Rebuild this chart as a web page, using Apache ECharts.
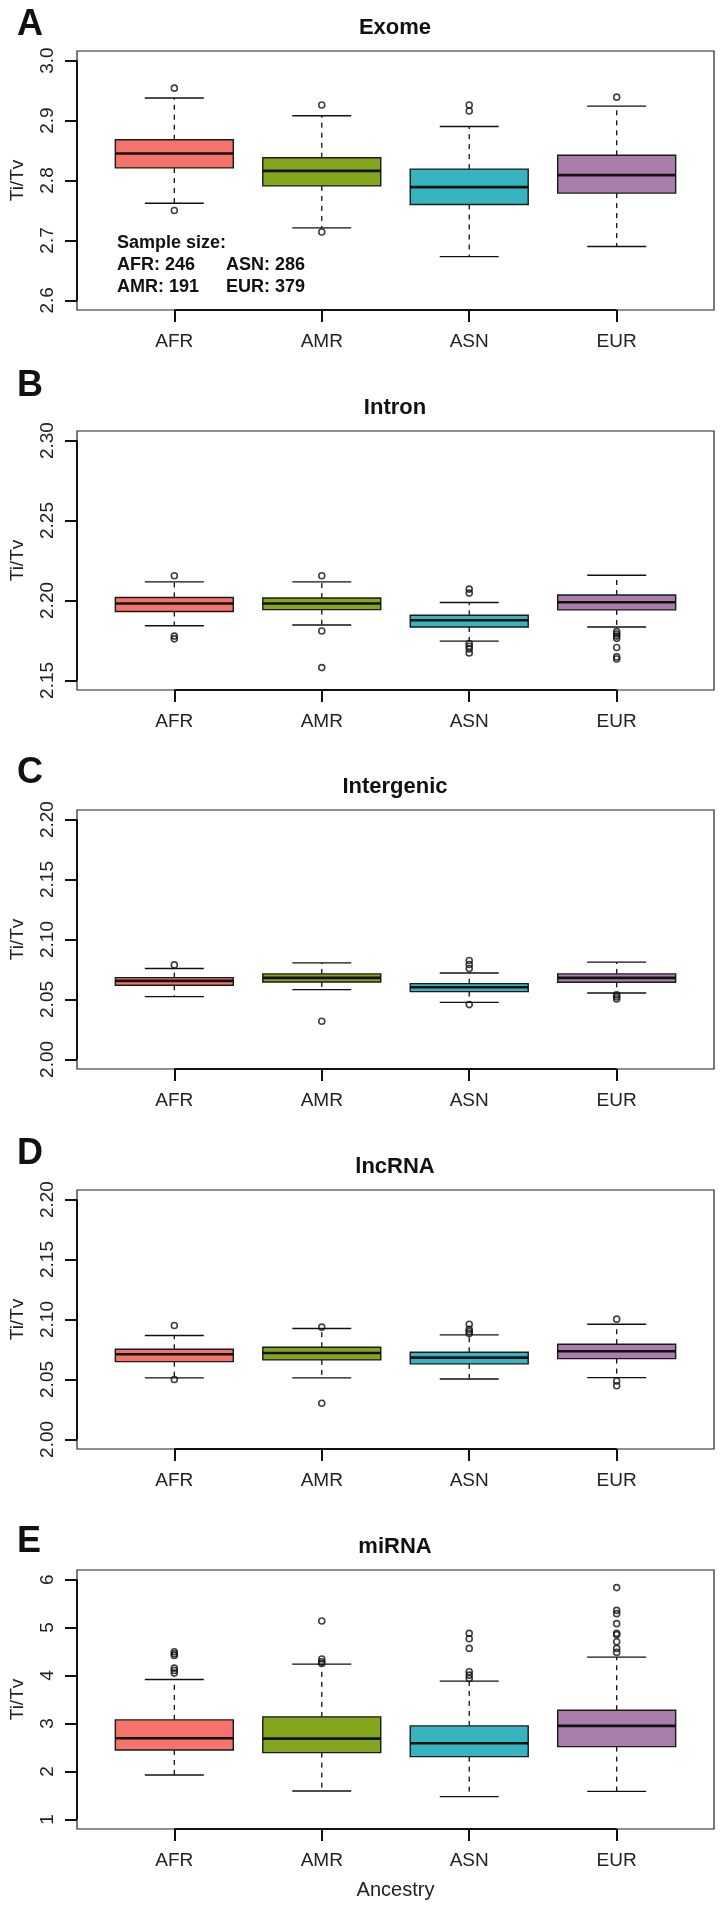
<!DOCTYPE html>
<html>
<head>
<meta charset="utf-8">
<script src="https://cdn.jsdelivr.net/npm/echarts@6/dist/echarts.min.js"></script>
<style>
html,body{margin:0;padding:0;background:#fff;}
#chart{width:720px;height:1909px;}
</style>
</head>
<body>
<div id="chart"></div>
<script>
// ---------- data ----------
const categories = ['AFR', 'AMR', 'ASN', 'EUR'];
const boxColors = ['#F4736A', '#84A61E', '#37B4BF', '#A97EAB'];
const panelLetters = ['A', 'B', 'C', 'D', 'E'];
const panelTitles = ['Exome', 'Intron', 'Intergenic', 'lncRNA', 'miRNA'];

// [lower whisker, Q1, median, Q3, upper whisker] per category
const exomeStats = [
  [2.762, 2.821, 2.845, 2.868, 2.9375],
  [2.721, 2.791, 2.816, 2.838, 2.908],
  [2.673, 2.760, 2.789, 2.819, 2.890],
  [2.690, 2.779, 2.809, 2.842, 2.924]
];
const exomeOutliers = [[1, 2.954], [1, 2.750], [2, 2.926], [2, 2.714], [3, 2.926], [3, 2.916], [4, 2.939]];
const exomeTicks = [2.6, 2.7, 2.8, 2.9, 3.0];

const intronStats = [
  [2.1842, 2.1931, 2.1981, 2.2019, 2.2116],
  [2.1847, 2.1943, 2.1981, 2.2015, 2.2116],
  [2.1746, 2.1834, 2.1876, 2.1908, 2.1987],
  [2.1834, 2.1941, 2.1989, 2.2034, 2.2158]
];
const intronOutliers = [
  [1, 2.2155], [1, 2.1777], [1, 2.1760],
  [2, 2.2155], [2, 2.1809], [2, 2.1580],
  [3, 2.2071], [3, 2.2046], [3, 2.1731], [3, 2.1714], [3, 2.1697], [3, 2.1672],
  [4, 2.1805], [4, 2.1790], [4, 2.1777], [4, 2.1763], [4, 2.1706], [4, 2.1647], [4, 2.1634]
];
const intronTicks = [2.15, 2.20, 2.25, 2.30];

const intergenicStats = [
  [2.0524, 2.0618, 2.0655, 2.0682, 2.0758],
  [2.0582, 2.0646, 2.0680, 2.0713, 2.0805],
  [2.0476, 2.0565, 2.0602, 2.0632, 2.0721],
  [2.0554, 2.0643, 2.0680, 2.0713, 2.0811]
];
const intergenicOutliers = [
  [1, 2.0788],
  [2, 2.0318],
  [3, 2.0825], [3, 2.0791], [3, 2.0758], [3, 2.0457],
  [4, 2.0538], [4, 2.0521], [4, 2.0504]
];
const intergenicTicks = [2.00, 2.05, 2.10, 2.15, 2.20];

const lncrnaStats = [
  [2.0513, 2.0649, 2.0710, 2.0752, 2.0866],
  [2.0513, 2.0663, 2.0721, 2.0769, 2.0925],
  [2.0504, 2.0630, 2.0682, 2.0727, 2.0872],
  [2.0515, 2.0674, 2.0735, 2.0794, 2.0961]
];
const lncrnaOutliers = [
  [1, 2.0950], [1, 2.0499],
  [2, 2.0936], [2, 2.0301],
  [3, 2.0961], [3, 2.0919], [3, 2.0900], [3, 2.0883],
  [4, 2.1003], [4, 2.0487], [4, 2.0448]
];
const lncrnaTicks = [2.00, 2.05, 2.10, 2.15, 2.20];

const mirnaStats = [
  [1.926, 2.448, 2.692, 3.075, 3.918],
  [1.592, 2.393, 2.685, 3.138, 4.238],
  [1.474, 2.309, 2.588, 2.950, 3.883],
  [1.585, 2.518, 2.950, 3.277, 4.384]
];
const mirnaOutliers = [
  [1, 4.496], [1, 4.454], [1, 4.419], [1, 4.155], [1, 4.106], [1, 4.050],
  [2, 5.136], [2, 4.343], [2, 4.287], [2, 4.250],
  [3, 4.879], [3, 4.767], [3, 4.565], [3, 4.078], [3, 4.008], [3, 3.939],
  [4, 5.833], [4, 5.359], [4, 5.290], [4, 5.081], [4, 4.879], [4, 4.851], [4, 4.705], [4, 4.565], [4, 4.482]
];
const mirnaTicks = [1, 2, 3, 4, 5, 6];

const tickDecimals = [1, 2, 2, 2, 0];
const sampleSizeLines = [['Sample size:', ''], ['AFR: 246', 'ASN: 286'], ['AMR: 191', 'EUR: 379']];

// ---------- layout ----------
const panels = [
  {stats: exomeStats, out: exomeOutliers, ticks: exomeTicks},
  {stats: intronStats, out: intronOutliers, ticks: intronTicks},
  {stats: intergenicStats, out: intergenicOutliers, ticks: intergenicTicks},
  {stats: lncrnaStats, out: lncrnaOutliers, ticks: lncrnaTicks},
  {stats: mirnaStats, out: mirnaOutliers, ticks: mirnaTicks}
];
const gridTops = [51, 431, 810, 1190, 1570];
const gridLeft = 76, gridWidth = 638, gridHeight = 259;
const letterY = [25, 386, 773, 1154, 1542];
const FONT = "'Liberation Sans', Arial, Helvetica, sans-serif";
const INK = '#111';

const catPos = categories.map((c, i) => i + 1);
const xMin = 0.5 - 0.04 * categories.length;
const xMax = categories.length + 0.5 + 0.04 * categories.length;

const grids = [], xAxes = [], yAxes = [], series = [], graphics = [];

panels.forEach((p, k) => {
  const lo = p.ticks[0], hi = p.ticks[p.ticks.length - 1];
  const ext = 0.04 * (hi - lo);
  const yMin = lo - ext, yMax = hi + ext;
  grids.push({left: gridLeft, top: gridTops[k], width: gridWidth, height: gridHeight,
    show: true, borderColor: '#222', borderWidth: 1.2, backgroundColor: 'transparent'});
  xAxes.push({
    gridIndex: k, type: 'value', min: xMin, max: xMax,
    axisLine: {show: false}, splitLine: {show: false},
    axisTick: {show: true, customValues: catPos, length: 12, lineStyle: {color: INK, width: 2}},
    axisLabel: {show: true, customValues: catPos, margin: 22, fontSize: 19, color: '#222', fontFamily: FONT,
      formatter: v => categories[Math.round(v) - 1]},
    name: k === panels.length - 1 ? 'Ancestry' : '',
    nameLocation: 'middle', nameGap: 51,
    nameTextStyle: {fontSize: 20, color: '#222', fontFamily: FONT}
  });
  const dec = tickDecimals[k];
  yAxes.push({
    gridIndex: k, type: 'value', min: yMin, max: yMax,
    axisLine: {show: false}, splitLine: {show: false},
    axisTick: {show: true, customValues: p.ticks, length: 12, lineStyle: {color: INK, width: 2}},
    axisLabel: {show: true, customValues: p.ticks, rotate: 90, margin: 20, fontSize: 19, color: '#222', fontFamily: FONT,
      formatter: v => Number(v).toFixed(dec)},
    name: 'Ti/Tv', nameLocation: 'middle', nameGap: 50,
    nameTextStyle: {fontSize: 19, color: '#222', fontFamily: FONT}
  });

  // axis line segments spanning first..last tick (R style)
  series.push({
    type: 'custom', xAxisIndex: k, yAxisIndex: k, silent: true, clip: false,
    data: [[0]],
    renderItem: (params, api) => {
      const a = api.coord([catPos[0], yMin]);
      const b = api.coord([catPos[catPos.length - 1], yMin]);
      const c = api.coord([xMin, p.ticks[0]]);
      const d = api.coord([xMin, p.ticks[p.ticks.length - 1]]);
      return {type: 'group', children: [
        {type: 'line', shape: {x1: a[0], y1: a[1], x2: b[0], y2: b[1]}, style: {stroke: INK, lineWidth: 2}},
        {type: 'line', shape: {x1: c[0], y1: c[1], x2: d[0], y2: d[1]}, style: {stroke: INK, lineWidth: 2}}
      ]};
    }
  });

  // boxes
  series.push({
    type: 'custom', xAxisIndex: k, yAxisIndex: k, silent: true,
    data: p.stats.map((s, i) => [catPos[i]].concat(s)),
    renderItem: (params, api) => {
      const x = api.value(0);
      const v = [1, 2, 3, 4, 5].map(j => api.value(j));
      const cx = api.coord([x, v[2]])[0];
      const yLo = api.coord([x, v[0]])[1], yQ1 = api.coord([x, v[1]])[1];
      const yMed = api.coord([x, v[2]])[1], yQ3 = api.coord([x, v[3]])[1], yHi = api.coord([x, v[4]])[1];
      const bl = api.coord([x - 0.4, v[2]])[0], br = api.coord([x + 0.4, v[2]])[0];
      const sl = api.coord([x - 0.2, v[2]])[0], sr = api.coord([x + 0.2, v[2]])[0];
      const lw = {stroke: INK, lineWidth: 1.4};
      return {type: 'group', children: [
        {type: 'line', shape: {x1: cx, y1: yQ3, x2: cx, y2: yHi}, style: {stroke: INK, lineWidth: 1.3, lineDash: [5, 5]}},
        {type: 'line', shape: {x1: cx, y1: yQ1, x2: cx, y2: yLo}, style: {stroke: INK, lineWidth: 1.3, lineDash: [5, 5]}},
        {type: 'line', shape: {x1: sl, y1: yHi, x2: sr, y2: yHi}, style: lw},
        {type: 'line', shape: {x1: sl, y1: yLo, x2: sr, y2: yLo}, style: lw},
        {type: 'rect', shape: {x: bl, y: yQ3, width: br - bl, height: yQ1 - yQ3},
          style: {fill: boxColors[params.dataIndex], stroke: '#1a1a1a', lineWidth: 1.4}},
        {type: 'line', shape: {x1: bl, y1: yMed, x2: br, y2: yMed}, style: {stroke: INK, lineWidth: 2.6}}
      ]};
    }
  });

  // outliers
  series.push({
    type: 'scatter', xAxisIndex: k, yAxisIndex: k, silent: true,
    data: p.out, symbol: 'circle', symbolSize: 6,
    itemStyle: {color: 'rgba(0,0,0,0)', borderColor: INK, borderWidth: 1.6}
  });

  // panel title and letter
  graphics.push({type: 'text', x: gridLeft + gridWidth / 2, y: gridTops[k] - 23,
    style: {text: panelTitles[k], font: 'bold 22px ' + FONT, fill: INK, textAlign: 'center', textVerticalAlign: 'middle'}});
  graphics.push({type: 'text', x: 17, y: letterY[k],
    style: {text: panelLetters[k], font: 'bold 36px ' + FONT, fill: INK, textAlign: 'left', textVerticalAlign: 'middle'}});
});

// sample size annotation (panel A)
const ssX = [117, 226], ssY = [243, 265.5, 287.5];
sampleSizeLines.forEach((row, r) => {
  row.forEach((t, c) => {
    if (!t) return;
    graphics.push({type: 'text', x: ssX[c], y: ssY[r],
      style: {text: t, font: 'bold 18px ' + FONT, fill: INK, textAlign: 'left', textVerticalAlign: 'middle'}});
  });
});

const chart = echarts.init(document.getElementById('chart'), null, {renderer: 'canvas'});
chart.setOption({
  animation: false,
  backgroundColor: '#fff',
  grid: grids,
  xAxis: xAxes,
  yAxis: yAxes,
  series: series,
  graphic: graphics
});
</script>
</body>
</html>
